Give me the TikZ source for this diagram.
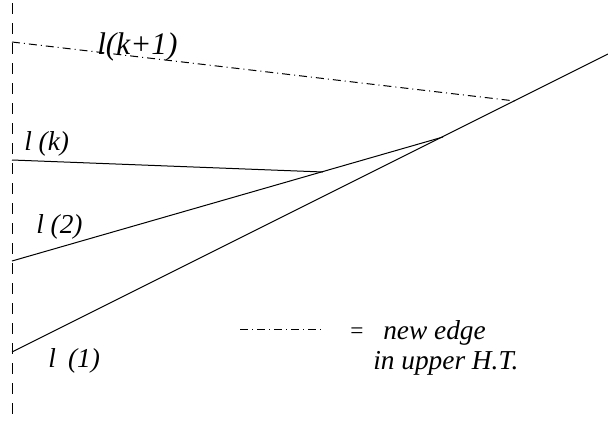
\documentclass[tikz,border=0pt]{standalone}
\usepackage{fontspec}
\setmainfont{Liberation Serif}
\begin{document}
\begin{tikzpicture}[x=0.75pt,y=-0.75pt,
  edge/.style={line width=0.75pt},
  axisline/.style={line width=0.75pt,dash pattern=on 8.25pt off 6.75pt},
  newedge/.style={line width=0.75pt,dash pattern=on 6pt off 3pt on 0.75pt off 3pt},
  lbl/.style={anchor=base west,inner sep=0pt,font=\fontsize{20.5}{24}\selectfont\itshape}]
\useasboundingbox (0,0) rectangle (608,421);
% points
\coordinate (top) at (12,3);
\coordinate (bot) at (12,421);
\coordinate (a1) at (12,352);
\coordinate (a2) at (12,261);
\coordinate (ak) at (12,160);
\coordinate (ak1) at (12,42);
\coordinate (pk) at (323,172);
\coordinate (p2) at (443,137);
\coordinate (pk1) at (515,101);
\coordinate (e1) at (608,54);
\coordinate (lg1) at (240,329);
\coordinate (lg2) at (322,329);
% lines
\draw[axisline] (top) -- (bot);
\draw[edge] (a1) -- (e1);
\draw[edge] (a2) -- (p2);
\draw[edge] (ak) -- (pk);
\draw[newedge] (ak1) -- (pk1);
\draw[newedge] (lg1) -- (lg2);
% labels
\node[lbl,font=\fontsize{23.5}{28}\selectfont\itshape] (tk1) at (97,55) {l(k+1)};
\node[lbl] (tk) at (24,150) {l (k)};
\node[lbl] (t2) at (36,233) {l (2)};
\node[lbl] (t1) at (48,367) {l\hspace{0.45em}(1)};
\node[lbl,font=\fontsize{17.5}{20}\selectfont\upshape] (eq) at (350,338) {=};
\node[lbl] (ne) at (383,339) {new edge};
\node[lbl] (ut) at (373,369) {in upper H.T.};
\end{tikzpicture}
\end{document}
